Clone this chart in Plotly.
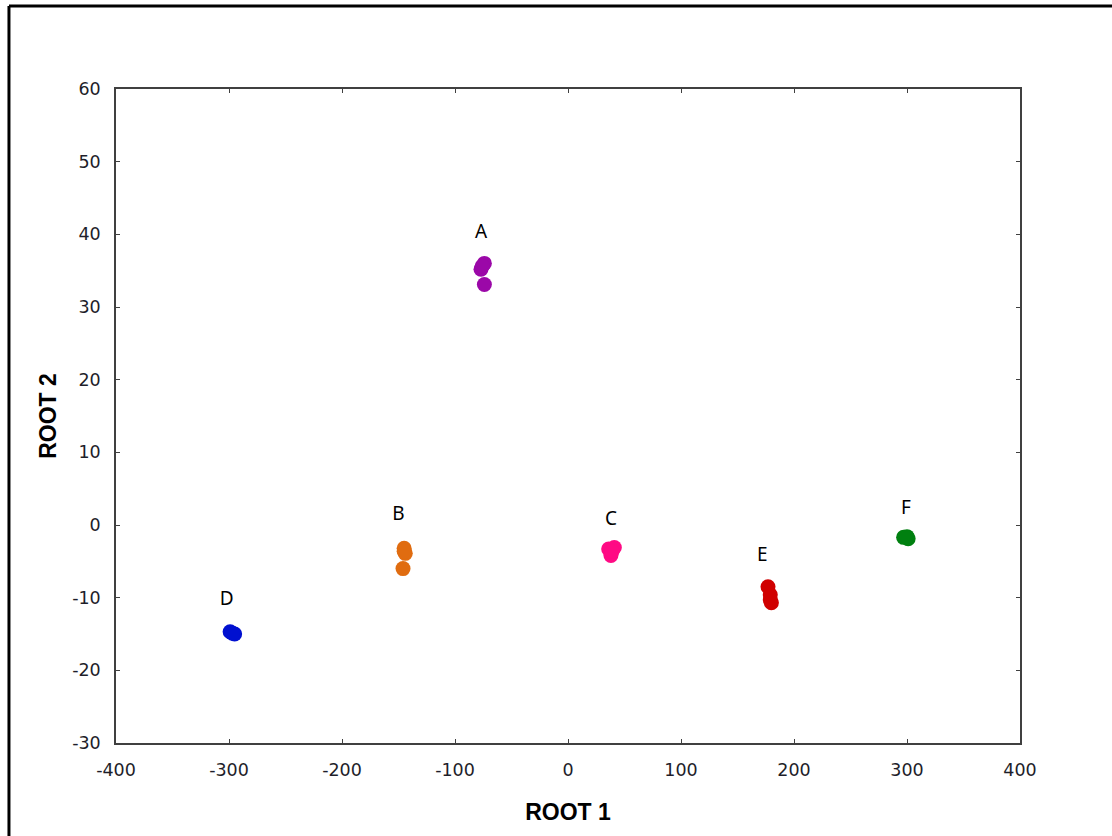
import plotly.graph_objects as go

groups = ["A", "B", "C", "D", "E", "F"]
colors = ["#9b08a8", "#e06c10", "#ff0a84", "#0010d0", "#d00000", "#008010"]
xs = [
    [-77, -74, -74, -76],
    [-145, -144, -146, -145],
    [36, 41, 38, 39],
    [-299, -295, -297],
    [177, 179, 180, 179],
    [297, 301, 300],
]
ys = [
    [35.2, 36.0, 33.1, 35.6],
    [-3.2, -3.9, -6.0, -3.6],
    [-3.3, -3.1, -4.2, -3.6],
    [-14.7, -15.0, -14.9],
    [-8.5, -9.6, -10.7, -10.3],
    [-1.7, -1.9, -1.6],
]
label_x = [-77, -150, 38, -302, 172, 299]
label_y = [40.2, 1.3, 0.6, -10.4, -4.3, 2.1]

x_ticks = [-400, -300, -200, -100, 0, 100, 200, 300, 400]
y_ticks = [-30, -20, -10, 0, 10, 20, 30, 40, 50, 60]

fig = go.Figure()
for g, c, x, y in zip(groups, colors, xs, ys):
    fig.add_trace(go.Scatter(x=x, y=y, mode="markers", name=g,
                             marker=dict(color=c, size=15, line=dict(width=0))))
fig.add_trace(go.Scatter(x=label_x, y=label_y, mode="text", text=groups,
                         textfont=dict(family="Noto Sans, Open Sans, sans-serif", size=19, color="#000000"),
                         showlegend=False, hoverinfo="skip"))

axis_common = dict(showgrid=False, zeroline=False, showline=True, mirror="ticks",
                   linecolor="#404040", linewidth=1.5, ticks="inside", ticklen=4,
                   tickcolor="#404040", tickwidth=1.2, ticklabelstandoff=10,
                   tickfont=dict(family="DejaVu Sans, Verdana, sans-serif", size=17.5, color="#1e1e2a"))

title_font = dict(family="Liberation Sans, Arial, sans-serif", size=23, color="#000")
fig.update_xaxes(range=[-400, 400], tickvals=x_ticks, ticktext=[str(v) for v in x_ticks], **axis_common,
                 title=dict(text="<b>ROOT 1</b>", font=title_font, standoff=25))
fig.update_yaxes(range=[-30, 60], tickvals=y_ticks, ticktext=[str(v) for v in y_ticks], **axis_common,
                 title=dict(text="<b>ROOT 2</b>", font=title_font, standoff=9))

fig.update_layout(
    width=1112, height=836,
    margin=dict(l=116, r=92, t=89, b=93),
    paper_bgcolor="white", plot_bgcolor="white",
    showlegend=False,
    shapes=[
        dict(type="line", xref="paper", yref="paper", x0=-0.1184, x1=-0.1184, y0=-0.3, y1=1.1269,
             line=dict(color="black", width=3)),
        dict(type="line", xref="paper", yref="paper", x0=-0.1184, x1=1.3, y0=1.1269, y1=1.1269,
             line=dict(color="black", width=3)),
    ],
)

fig.write_html("out.html", config={"displayModeBar": False},
               post_script="document.body.style.margin='0';")
